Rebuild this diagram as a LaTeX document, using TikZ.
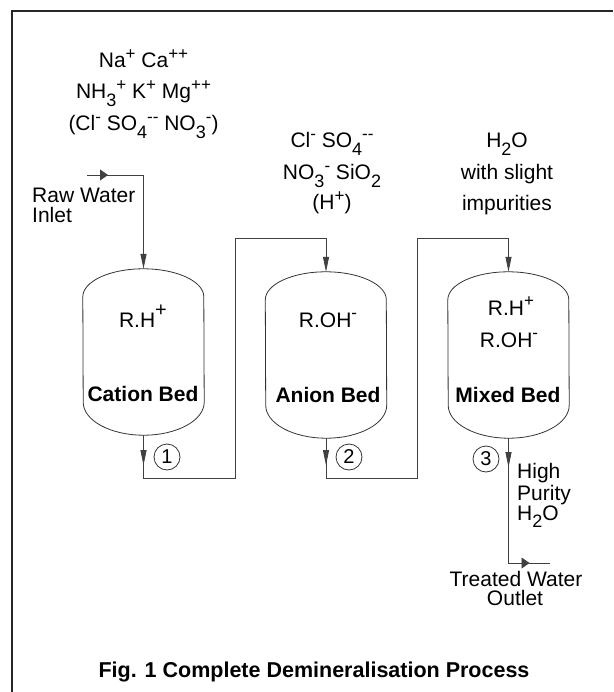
\documentclass[tikz,border=0pt]{standalone}
\usepackage{fontspec}
\setmainfont{Liberation Sans}
\usetikzlibrary{arrows.meta,calc}
\newcommand\upc[1]{\raisebox{0.4em}{\fontsize{17}{17}\selectfont #1}}
\newcommand\dnc[1]{\raisebox{-0.38em}{\fontsize{18}{18}\selectfont #1}}
\newcommand\tankoutline[1]{\draw[tankline] ([yshift=-28pt]#1.north west) arc[start angle=180,end angle=0,x radius=60.5pt,y radius=28pt] -- ([yshift=33pt]#1.south east) arc[start angle=0,end angle=-180,x radius=60.5pt,y radius=33pt] -- cycle;}
\begin{document}
\begin{tikzpicture}[x=1pt,y=-1pt,
  txt/.style={font=\fontsize{21}{23}\selectfont, inner sep=0pt, anchor=base},
  ltxt/.style={txt, anchor=base west},
  bedlabel/.style={txt, font=\fontsize{21}{23}\selectfont\bfseries},
  tankbox/.style={draw=none, minimum width=121pt, minimum height=166pt, inner sep=0pt},
  tankline/.style={draw=black!80, line width=0.8pt},
  flow/.style={draw=black!75, line width=0.8pt},
  vtip/.style={-{Triangle[length=15pt,width=6pt]}},
  htip/.style={-{Triangle[length=8pt,width=11pt]}},
  numcirc/.style={circle, draw=black!80, line width=0.8pt, minimum size=26pt, inner sep=0pt, font=\fontsize{20}{20}\selectfont},
  frameline/.style={draw=black!85, line width=1.6pt}]
\useasboundingbox (0,0) rectangle (613,692);
\draw[frameline] (12,692) -- (12,11) -- (613,11);

% tanks
\node[tankbox] (cation) at (143.5,352) {};
\node[tankbox] (anion) at (326,355) {};
\node[tankbox] (mixed) at (508.5,355) {};
\tankoutline{cation}
\tankoutline{anion}
\tankoutline{mixed}

% tank labels
\node[txt] (rh1) at (143,327) {R.H\raisebox{0.5em}{\fontsize{20}{20}\selectfont +}};
\node[bedlabel] (cb) at (143,401) {Cation Bed};
\node[txt] (roh1) at (328,327) {R.OH\upc{-}};
\node[bedlabel] (ab) at (328,402) {Anion Bed};
\node[txt] (rh2) at (511,315) {R.H\upc{+}};
\node[txt] (roh2) at (509,347) {R.OH\upc{-}};
\node[bedlabel] (mb) at (508,402) {Mixed Bed};

% ion texts
\node[txt] (ion1) at (143.5,68) {Na\upc{+} Ca\upc{++}};
\node[txt] (ion2) at (143.5,99) {NH\dnc{3}\upc{+} K\upc{+} Mg\upc{++}};
\node[txt] (ion3) at (143.5,131) {(Cl\upc{-} SO\dnc{4}\upc{-{}-} NO\dnc{3}\upc{-})};
\node[txt] (an1) at (332,148) {Cl\upc{-} SO\dnc{4}\upc{-{}-}};
\node[txt] (an2) at (332,180) {NO\dnc{3}\upc{-} SiO\dnc{2}};
\node[txt] (an3) at (332,210) {(H\upc{+})};
\node[txt] (w1) at (507,148) {H\dnc{2}O};
\node[txt] (w2) at (507,180) {with slight};
\node[txt] (w3) at (507,211) {impurities};

% inlet / outlet labels
\node[ltxt] (raw1) at (32,203) {Raw Water};
\node[ltxt] (raw2) at (32,223) {Inlet};
\node[ltxt] (hp1) at (517,478) {High};
\node[ltxt] (hp2) at (517,500) {Purity};
\node[ltxt] (hp3) at (517,520) {H\dnc{2}O};
\node[txt] (tw1) at (516,586) {Treated Water};
\node[txt] (tw2) at (515,605) {Outlet};

% numbered circles
\node[numcirc] (n1) at (167,457) {1};
\node[numcirc] (n2) at (349,457) {2};
\node[numcirc] (n3) at (486,459) {3};

% connectors
\coordinate (rawin) at (87,175);
\coordinate (riser1) at (235,238);
\coordinate (riser2) at (417,238);
\coordinate (outlet) at (550,563);
\draw[flow,vtip] (rawin) -| (cation.north);
\draw[flow,htip] (rawin) -- ++(21,0);
\draw[flow,vtip] (cation.south) -- ++(0,43) -| (riser1) -| (anion.north);
\draw[flow,vtip] (cation.south) -- ++(0,30);
\draw[flow,vtip] (anion.south) -- ++(0,40) -| (riser2) -| (mixed.north);
\draw[flow,vtip] (anion.south) -- ++(0,27);
\draw[flow] (mixed.south) |- (outlet);
\draw[flow,vtip] (mixed.south) -- ++(0,29);
\draw[flow,htip] (mixed.south |- outlet) -- ++(21,0);

% caption
\node[txt, font=\fontsize{21.5}{24}\selectfont\bfseries] (cap) at (314,677) {Fig. 1 Complete Demineralisation Process};
\end{tikzpicture}
\end{document}
